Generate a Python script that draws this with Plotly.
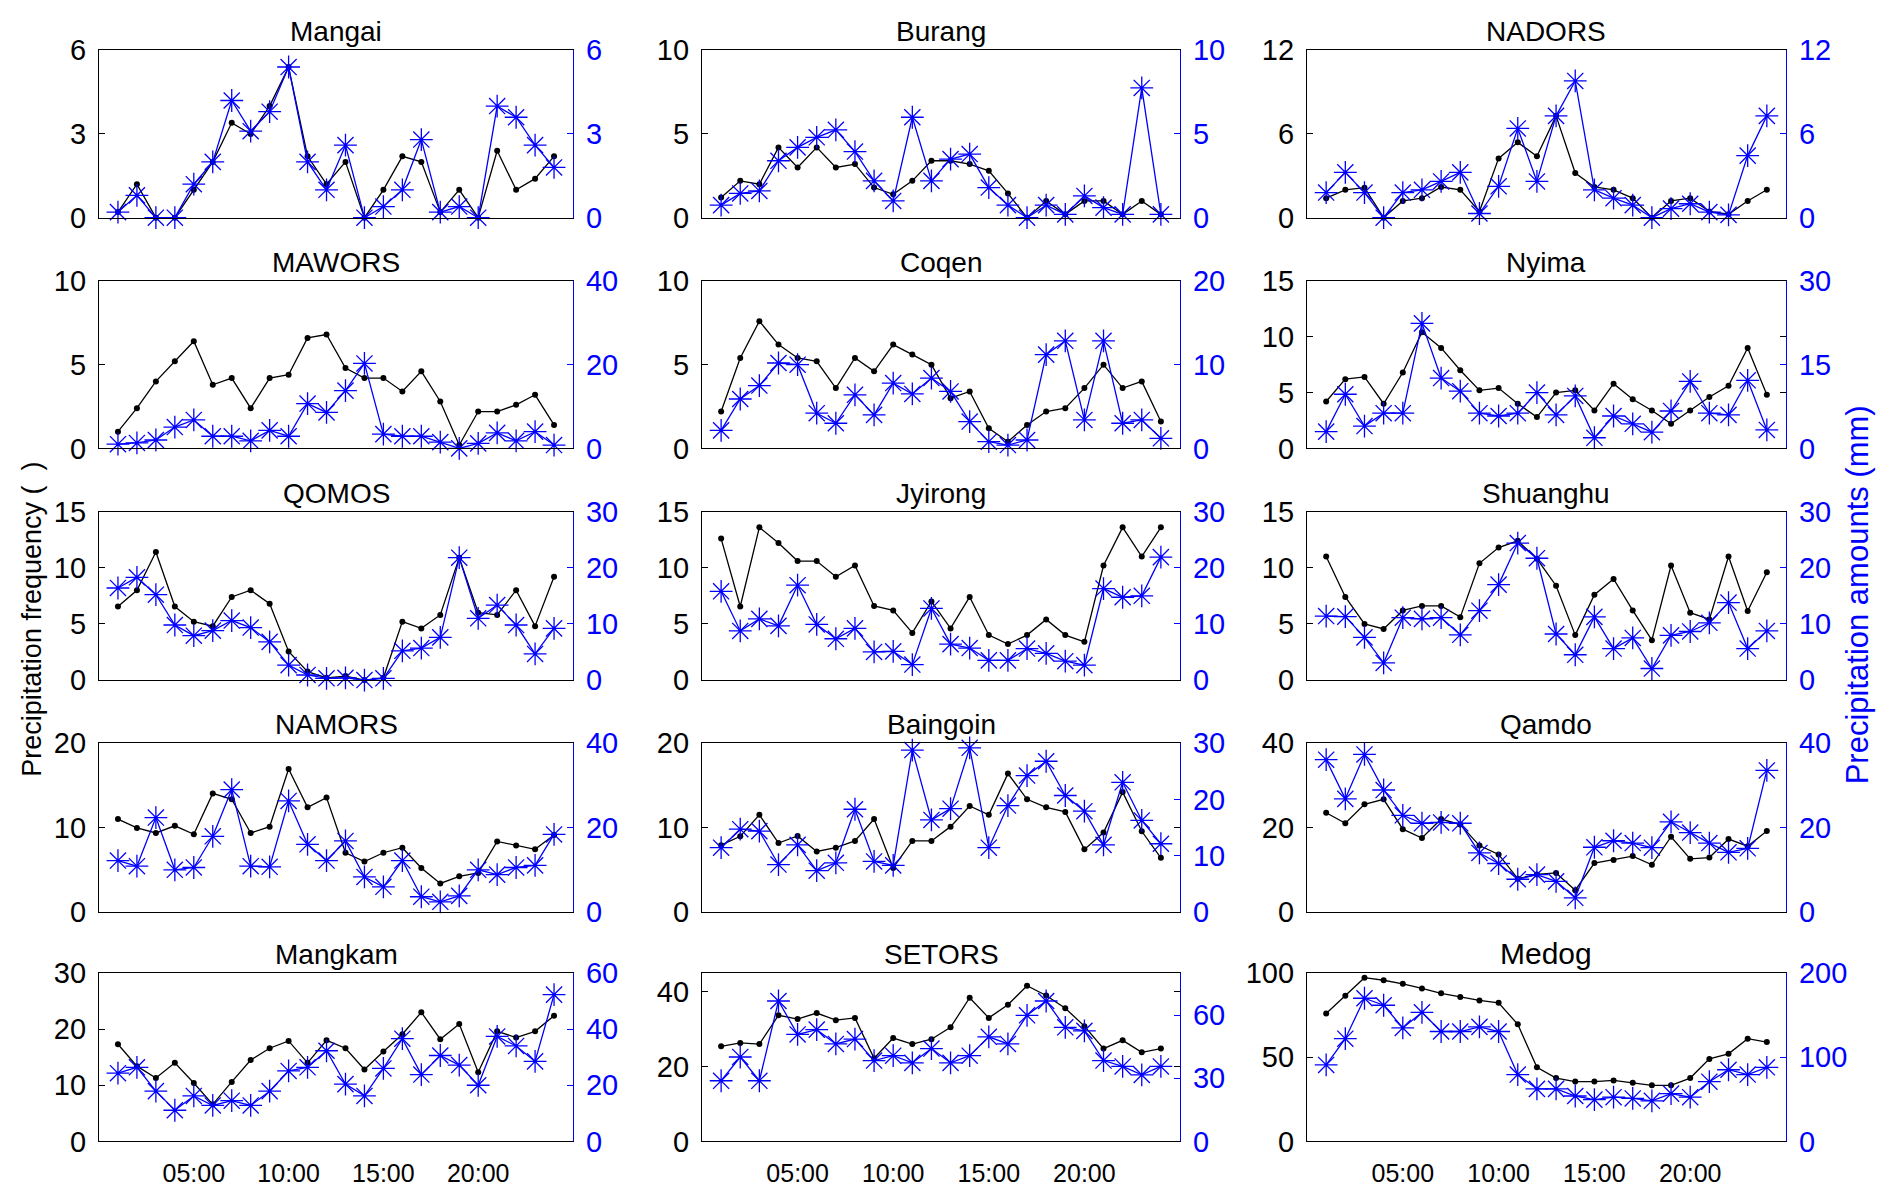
import plotly.graph_objects as go

hours = list(range(1, 25))
xtick_vals = [5, 10, 15, 20]
xtick_text = ["05:00", "10:00", "15:00", "20:00"]

stations = ["Mangai", "Burang", "NADORS", "MAWORS", "Coqen", "Nyima", "QOMOS", "Jyirong",
            "Shuanghu", "NAMORS", "Baingoin", "Qamdo", "Mangkam", "SETORS", "Medog"]

freq_mangai = [0.2, 1.2, 0, 0, 1.0, 2.0, 3.4, 3.0, 4.0, 5.4, 2.2, 1.2, 2.0, 0, 1.0, 2.2, 2.0, 0.2, 1.0, 0, 2.4, 1.0, 1.4, 2.2]
amt_mangai = [0.2, 0.8, 0, 0, 1.2, 2.0, 4.2, 3.1, 3.8, 5.4, 2.0, 1.0, 2.6, 0, 0.4, 1.0, 2.8, 0.2, 0.4, 0, 4.0, 3.6, 2.6, 1.8]

freq_burang = [1.2, 2.2, 2.0, 4.2, 3.0, 4.2, 3.0, 3.2, 1.8, 1.4, 2.2, 3.4, 3.4, 3.2, 2.8, 1.45, 0, 1.0, 0.2, 1.0, 1.0, 0.2, 1.0, 0.2]
amt_burang = [0.75, 1.45, 1.6, 3.4, 4.2, 4.8, 5.25, 3.95, 2.2, 1.0, 6.0, 2.2, 3.5, 3.8, 1.8, 0.75, 0, 0.75, 0.2, 1.3, 0.6, 0.2, 7.75, 0.2]

freq_nadors = [1.4, 2.0, 2.15, 0, 1.2, 1.4, 2.2, 2.0, 0.45, 4.25, 5.4, 4.4, 7.3, 3.2, 2.2, 2.0, 1.4, 0, 1.2, 1.4, 0.45, 0.25, 1.2, 2.0]
amt_nadors = [1.8, 3.25, 1.8, 0, 1.8, 2.0, 2.6, 3.25, 0.3, 2.25, 6.4, 2.6, 7.3, 9.8, 2.0, 1.4, 0.9, 0, 0.65, 1.0, 0.4, 0.2, 4.45, 7.3]

freq_mawors = [1.0, 2.4, 4.0, 5.2, 6.4, 3.8, 4.2, 2.4, 4.2, 4.4, 6.6, 6.8, 4.8, 4.2, 4.2, 3.4, 4.6, 2.8, 0.2, 2.2, 2.2, 2.6, 3.2, 1.4]
amt_mawors = [1.0, 1.3, 2.0, 5.1, 6.8, 2.9, 2.9, 1.8, 4.3, 2.9, 10.7, 8.6, 13.8, 20.3, 3.4, 2.9, 2.9, 1.5, 0, 1.2, 3.7, 1.8, 4.0, 0.8]

freq_coqen = [2.2, 5.4, 7.6, 6.2, 5.4, 5.2, 3.6, 5.4, 4.6, 6.2, 5.6, 5.0, 3.0, 3.4, 1.2, 0.4, 1.4, 2.2, 2.4, 3.6, 5.0, 3.6, 4.0, 1.6]
amt_coqen = [2.15, 5.9, 7.5, 10.2, 10.0, 4.2, 3.0, 6.4, 4.0, 7.8, 6.5, 8.4, 6.8, 3.2, 0.8, 0.4, 1.0, 11.2, 12.85, 3.4, 12.85, 3.0, 3.4, 1.2]

freq_nyima = [4.2, 6.2, 6.4, 4.0, 6.8, 10.4, 9.0, 7.0, 5.2, 5.4, 4.0, 2.8, 5.0, 5.2, 3.4, 5.8, 4.4, 3.4, 2.2, 3.4, 4.6, 5.6, 9.0, 4.8]
amt_nyima = [3.0, 9.7, 4.0, 6.3, 6.3, 22.4, 12.6, 10.25, 6.3, 5.8, 6.3, 10.0, 6.0, 9.4, 1.9, 5.8, 4.4, 2.9, 6.7, 12.0, 6.3, 6.0, 12.2, 3.3]

freq_qomos = [6.55, 8.0, 11.4, 6.55, 5.2, 4.8, 7.4, 8.0, 6.8, 2.55, 0.75, 0.2, 0.35, 0, 0.2, 5.2, 4.6, 5.8, 10.9, 6.0, 5.8, 8.0, 4.8, 9.2]
amt_qomos = [16.4, 18.3, 15.2, 9.8, 7.9, 8.8, 10.6, 9.35, 6.8, 2.65, 0.9, 0.3, 0.4, 0, 0.3, 5.2, 5.7, 7.6, 21.8, 11.0, 13.35, 9.8, 4.65, 9.2]

freq_jyirong = [12.6, 6.55, 13.6, 12.2, 10.6, 10.6, 9.2, 10.2, 6.6, 6.2, 4.2, 7.0, 4.6, 7.4, 4.0, 3.2, 4.0, 5.4, 4.0, 3.4, 10.2, 13.6, 11.0, 13.6]
amt_jyirong = [15.8, 8.75, 10.9, 9.65, 16.9, 9.9, 7.35, 9.2, 5.0, 5.1, 2.75, 12.75, 6.4, 5.7, 3.5, 3.5, 5.6, 4.75, 3.35, 2.65, 16.3, 14.75, 15.0, 21.9]

freq_shuanghu = [11.0, 7.4, 5.0, 4.55, 6.2, 6.6, 6.6, 5.6, 10.4, 11.8, 12.4, 10.8, 8.4, 4.0, 7.6, 9.0, 6.2, 3.55, 10.2, 6.0, 5.4, 11.0, 6.15, 9.6]
amt_shuanghu = [11.4, 11.3, 7.6, 3.05, 11.1, 10.9, 11.1, 8.05, 12.35, 17.0, 24.4, 21.7, 8.2, 4.5, 11.25, 5.6, 7.5, 2.05, 7.95, 8.65, 10.2, 13.8, 5.6, 8.75]

freq_namors = [11.0, 9.95, 9.35, 10.2, 9.2, 14.05, 13.35, 9.35, 10.1, 16.95, 12.4, 13.55, 7.0, 5.95, 7.0, 7.6, 5.2, 3.35, 4.2, 4.6, 8.35, 7.85, 7.4, 9.1]
amt_namors = [12.15, 10.8, 22.35, 9.95, 10.5, 17.9, 29.0, 10.8, 10.65, 26.3, 16.0, 12.15, 16.8, 8.25, 5.9, 12.15, 3.55, 2.35, 3.75, 9.95, 8.8, 10.5, 11.0, 18.35]

freq_baingoin = [7.9, 8.95, 11.5, 8.15, 9.0, 7.15, 7.6, 8.4, 11.0, 5.2, 8.4, 8.4, 10.1, 12.55, 11.5, 16.4, 13.35, 12.4, 11.85, 7.4, 9.4, 14.2, 9.55, 6.4]
amt_baingoin = [11.4, 14.7, 14.35, 8.4, 11.9, 7.3, 8.7, 18.25, 8.95, 8.25, 28.8, 16.35, 18.35, 29.2, 11.4, 18.9, 24.25, 26.8, 20.7, 17.9, 11.9, 23.05, 16.25, 12.1]

freq_qamdo = [23.5, 21.0, 25.5, 26.7, 19.6, 17.5, 22.0, 20.7, 15.7, 13.6, 7.85, 8.85, 9.2, 5.1, 11.55, 12.3, 13.2, 11.15, 17.8, 12.55, 12.85, 17.25, 15.55, 19.15]
amt_qamdo = [36.1, 26.8, 37.35, 28.9, 22.9, 21.0, 21.2, 21.0, 13.95, 11.45, 7.7, 8.8, 7.2, 3.3, 15.3, 16.85, 16.3, 15.2, 21.35, 18.8, 16.3, 14.1, 15.05, 33.55]

freq_mangkam = [17.3, 13.4, 11.3, 14.0, 10.4, 6.6, 10.6, 14.5, 16.6, 17.9, 14.0, 18.0, 16.6, 12.8, 16.0, 19.1, 23.0, 18.2, 20.9, 12.3, 19.6, 18.5, 19.6, 22.4]
amt_mangkam = [24.3, 26.4, 17.9, 11.1, 16.2, 12.8, 14.5, 12.8, 17.9, 25.1, 26.4, 32.3, 20.4, 16.2, 26.0, 36.6, 23.8, 30.6, 27.2, 20.0, 37.4, 34.0, 28.5, 52.3]

freq_setors = [25.4, 26.3, 26.0, 33.7, 32.7, 34.3, 32.4, 33.0, 22.2, 27.6, 26.0, 27.3, 30.5, 38.4, 33.0, 36.5, 41.6, 39.0, 35.6, 30.8, 24.8, 27.0, 23.8, 24.8]
amt_setors = [28.8, 40.1, 28.8, 66.7, 50.8, 53.1, 46.3, 48.6, 38.4, 40.7, 37.3, 44.1, 37.3, 40.7, 49.7, 46.3, 59.9, 66.7, 54.2, 52.5, 38.4, 35.6, 31.6, 35.6]

freq_medog = [75.9, 86.5, 97.2, 95.7, 93.6, 90.8, 87.9, 85.8, 83.7, 82.3, 69.5, 44.0, 37.6, 35.5, 35.5, 36.2, 34.8, 33.3, 33.3, 37.6, 49.0, 52.0, 61.0, 59.0]
amt_medog = [90.8, 122.0, 170.0, 161.7, 134.8, 153.2, 130.5, 130.5, 136.0, 130.5, 79.4, 62.4, 62.4, 53.9, 49.6, 52.5, 51.0, 48.2, 56.7, 52.5, 70.9, 85.1, 79.4, 88.0]

freq_series = [freq_mangai, freq_burang, freq_nadors, freq_mawors, freq_coqen, freq_nyima,
               freq_qomos, freq_jyirong, freq_shuanghu, freq_namors, freq_baingoin, freq_qamdo,
               freq_mangkam, freq_setors, freq_medog]
amt_series = [amt_mangai, amt_burang, amt_nadors, amt_mawors, amt_coqen, amt_nyima,
              amt_qomos, amt_jyirong, amt_shuanghu, amt_namors, amt_baingoin, amt_qamdo,
              amt_mangkam, amt_setors, amt_medog]

left_max = [6, 10, 12, 10, 10, 15, 15, 15, 15, 20, 20, 40, 30, 45, 100]
left_ticks = [[0, 3, 6], [0, 5, 10], [0, 6, 12], [0, 5, 10], [0, 5, 10], [0, 5, 10, 15],
              [0, 5, 10, 15], [0, 5, 10, 15], [0, 5, 10, 15], [0, 10, 20], [0, 10, 20],
              [0, 20, 40], [0, 10, 20, 30], [0, 20, 40], [0, 50, 100]]
right_max = [6, 10, 12, 40, 20, 30, 30, 30, 30, 40, 30, 40, 60, 80, 200]
right_ticks = [[0, 3, 6], [0, 5, 10], [0, 6, 12], [0, 20, 40], [0, 10, 20], [0, 15, 30],
               [0, 10, 20, 30], [0, 10, 20, 30], [0, 10, 20, 30], [0, 20, 40], [0, 10, 20, 30],
               [0, 20, 40], [0, 20, 40, 60], [0, 30, 60], [0, 100, 200]]
title_sizes = [28] * 14 + [30]

W, H = 1892, 1200
col_px = [(91, 565), (694, 1172), (1299, 1778)]
row_px = [(27, 199), (264, 436), (501, 674), (739, 912), (975, 1148)]

FONT = "Arial, Liberation Sans, Helvetica, sans-serif"
BLUE = "#0000FF"

fig = go.Figure()
layout = {}
annotations = []

for i, name in enumerate(stations):
    r, c = divmod(i, 3)
    xd = (col_px[c][0] / W, col_px[c][1] / W)
    yd = (1 - row_px[r][1] / H, 1 - row_px[r][0] / H)
    xn = "x" if i == 0 else f"x{i+1}"
    yl = 2 * i + 1
    yr = 2 * i + 2
    yln = "y" if yl == 1 else f"y{yl}"
    yrn = f"y{yr}"

    fig.add_trace(go.Scatter(
        x=hours, y=freq_series[i], xaxis=xn, yaxis=yln, mode="lines+markers",
        line=dict(color="black", width=1.3),
        marker=dict(size=6, color="black"),
        cliponaxis=False, showlegend=False, name=name + " frequency"))
    fig.add_trace(go.Scatter(
        x=hours, y=amt_series[i], xaxis=xn, yaxis=yrn, mode="lines+markers",
        line=dict(color=BLUE, width=1.3),
        marker=dict(symbol="asterisk-open", size=19, color=BLUE,
                    line=dict(width=1.3, color=BLUE)),
        cliponaxis=False, showlegend=False, name=name + " amount"))

    bottom = (r == 4)
    layout["xaxis" if i == 0 else f"xaxis{i+1}"] = dict(
        domain=list(xd), range=[0, 25], anchor=yln,
        showline=True, linecolor="black", linewidth=1.3, mirror=True,
        showgrid=False, zeroline=False, ticks="",
        tickvals=xtick_vals, ticktext=xtick_text, showticklabels=bottom,
        ticklabelstandoff=9,
        tickfont=dict(family=FONT, size=25, color="black"))
    layout["yaxis" if yl == 1 else f"yaxis{yl}"] = dict(
        domain=list(yd), range=[0, left_max[i]], anchor=xn,
        showline=True, linecolor="black", linewidth=1.3, mirror="ticks",
        showgrid=False, zeroline=False, ticks="inside", ticklen=6,
        tickcolor="black", tickvals=left_ticks[i], ticklabelstandoff=6,
        tickfont=dict(family=FONT, size=29, color="black"))
    layout[f"yaxis{yr}"] = dict(
        domain=list(yd), range=[0, right_max[i]], anchor=xn, overlaying=yln, side="right",
        showline=True, linecolor=BLUE, linewidth=1.3,
        showgrid=False, zeroline=False, ticks="inside", ticklen=6,
        tickcolor=BLUE, tickvals=right_ticks[i], ticklabelstandoff=6,
        tickfont=dict(family=FONT, size=29, color=BLUE))

    annotations.append(dict(
        text=name, x=(xd[0] + xd[1]) / 2, y=yd[1], xref="paper", yref="paper",
        xanchor="center", yanchor="bottom", yshift=1, showarrow=False,
        font=dict(family=FONT, size=title_sizes[i], color="black")))

annotations.append(dict(
    text="Precipitation frequency (  )", x=24 / W, y=1 - 612 / H, xref="paper", yref="paper",
    xanchor="center", yanchor="middle", textangle=-90, showarrow=False,
    font=dict(family=FONT, size=27, color="black")))
annotations.append(dict(
    text="Precipitation amounts (mm)", x=1849 / W, y=1 - 587 / H, xref="paper", yref="paper",
    xanchor="center", yanchor="middle", textangle=-90, showarrow=False,
    font=dict(family=FONT, size=31, color=BLUE)))

fig.update_layout(
    width=W, height=H, margin=dict(l=0, r=0, t=0, b=0),
    paper_bgcolor="white", plot_bgcolor="white",
    annotations=annotations, showlegend=False, **layout)

fig.write_html("out.html")
